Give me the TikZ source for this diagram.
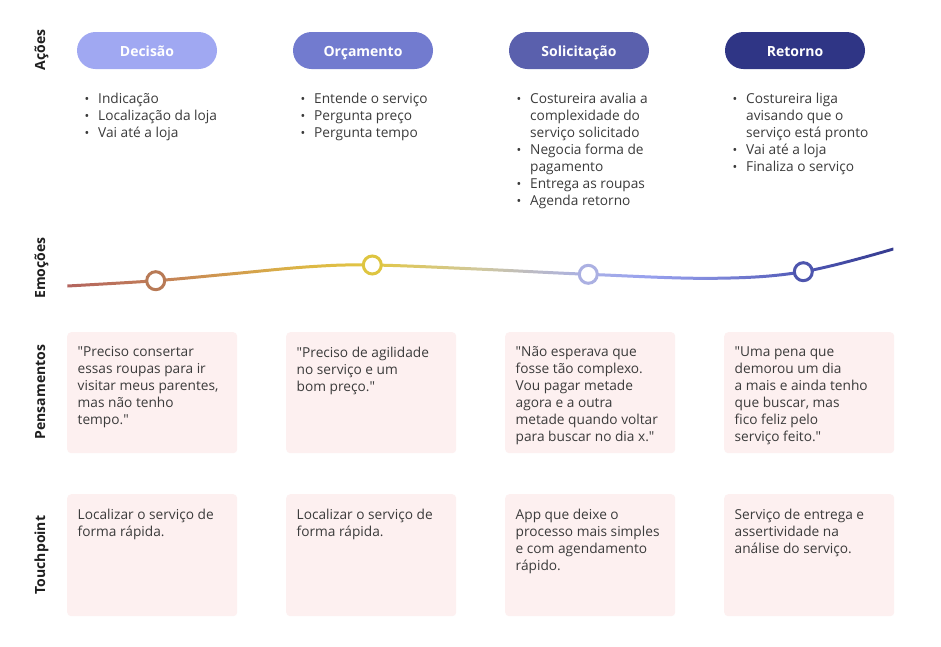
\documentclass[tikz,border=0pt]{standalone}
\usepackage{fontspec}
\setmainfont{Open Sans}[Ligatures=TeXOff]
\definecolor{pillA}{HTML}{A0A8F2}
\definecolor{pillB}{HTML}{727BCF}
\definecolor{pillC}{HTML}{5A60AD}
\definecolor{pillD}{HTML}{2F3585}
\definecolor{boxfill}{HTML}{FDF0F0}
\definecolor{txt}{HTML}{3B3B3B}
\definecolor{lbl}{HTML}{1F1F1F}
\definecolor{cA}{HTML}{B87A56}
\definecolor{cB}{HTML}{DEC540}
\definecolor{cC}{HTML}{ABB0E2}
\definecolor{cD}{HTML}{4E56AE}
\definecolor{g0}{HTML}{B3645E}
\definecolor{g1}{HTML}{C27E58}
\definecolor{g2}{HTML}{D19A4E}
\definecolor{g3}{HTML}{DDB845}
\definecolor{g4}{HTML}{E2C744}
\definecolor{g5}{HTML}{D0C89E}
\definecolor{g6}{HTML}{B9B9C9}
\definecolor{g7}{HTML}{A9B0E6}
\definecolor{g8}{HTML}{97A0EE}
\definecolor{g9}{HTML}{7F88DA}
\definecolor{g10}{HTML}{4F57B5}
\definecolor{g11}{HTML}{343A8E}
\pgfdeclarehorizontalshading{emoshade}{100bp}{color(0bp)=(g0); color(25bp)=(g0); color(30.33bp)=(g1); color(34.7bp)=(g2); color(39.7bp)=(g3); color(43.5bp)=(g4); color(50bp)=(g5); color(53.6bp)=(g6); color(56.5bp)=(g7); color(60.2bp)=(g8); color(64.1bp)=(g9); color(69.6bp)=(g10); color(75bp)=(g11); color(100bp)=(g11)}
\newcommand\blt{\makebox[11pt][l]{\kern-2.6pt{\fontsize{12.5}{10}\selectfont\raisebox{-0.2pt}{•}}}}
\newcommand\ind{\hspace*{11pt}}
\begin{document}
\begin{tikzpicture}[x=1pt,y=-1pt,
  pill/.style={rounded corners=18.5pt, minimum width=140pt, minimum height=37pt, inner sep=0pt,
    text=white, font=\fontsize{14}{17}\bfseries\selectfont, text height=11pt, text depth=0pt},
  rowlabel/.style={rotate=90, font=\fontsize{14}{17}\bfseries\selectfont, text=lbl, inner sep=0pt,
    text height=10pt, text depth=0pt},
  body/.style={anchor=north west, align=left, inner sep=0pt, text=txt,
    font=\fontsize{13.7}{17}\selectfont, execute at begin node=\strut},
  card/.style={anchor=north west, fill=boxfill, rounded corners=4pt, minimum width=170pt, inner sep=0pt},
  emo/.style={circle, draw, line width=3pt, fill=white, minimum size=18pt, inner sep=0pt}]
\useasboundingbox[fill=white] (0,0) rectangle (941,646);

% row labels
\node[rowlabel] (lA) at (40,50) {Ações};
\node[rowlabel] (lE) at (40,268) {Emoções};
\node[rowlabel] (lP) at (40,392) {Pensamentos};
\node[rowlabel] (lT) at (40,555) {Touchpoint};

% pills
\node[pill, fill=pillA] (p1) at (147,50.5) {Decisão};
\node[pill, fill=pillB] (p2) at (363,50.5) {Orçamento};
\node[pill, fill=pillC] (p3) at (579,50.5) {Solicitação};
\node[pill, fill=pillD] (p4) at (795,50.5) {Retorno};

% action lists
\node[body] (a1) at (87,92.6) {\blt Indicação\\\blt Localização da loja\\\blt Vai até a loja};
\node[body] (a2) at (303,92.6) {\blt Entende o serviço\\\blt Pergunta preço\\\blt Pergunta tempo};
\node[body] (a3) at (519,92.6) {\blt Costureira avalia a\\\ind complexidade do\\\ind serviço solicitado\\\blt Negocia forma de\\\ind pagamento\\\blt Entrega as roupas\\\blt Agenda retorno};
\node[body] (a4) at (735,92.6) {\blt Costureira liga\\\ind avisando que o\\\ind serviço está pronto\\\blt Vai até a loja\\\blt Finaliza o serviço};

% emotion curve
\shade[shading=emoshade] plot[smooth, tension=0.6] coordinates {(67.3,284.5) (155.7,279.2) (226.7,272.8) (310,265.2) (372.3,263.5) (476.7,267.5) (588.3,272.8) (713.3,276.8) (803.3,270.2) (893.3,247.5)}
  -- plot[smooth, tension=0.6] coordinates {(893.3,250.5) (803.3,273.2) (713.3,279.8) (588.3,275.8) (476.7,270.5) (372.3,266.5) (310,268.2) (226.7,275.8) (155.7,282.2) (67.3,287.5)} -- cycle;
\node[emo, draw=cA] (e1) at (155.7,280.7) {};
\node[emo, draw=cB] (e2) at (372.3,265) {};
\node[emo, draw=cC] (e3) at (588.3,274.3) {};
\node[emo, draw=cD] (e4) at (803.3,271.7) {};

% thoughts
\node[card, minimum height=121pt] (t1) at (67,332) {};
\node[card, minimum height=121pt] (t2) at (286,332) {};
\node[card, minimum height=121pt] (t3) at (505,332) {};
\node[card, minimum height=121pt] (t4) at (724,332) {};
\node[body] (tt1) at (77.5,346.6) {"Preciso consertar\\essas roupas para ir\\visitar meus parentes,\\mas não tenho\\tempo."};
\node[body] (tt2) at (296.5,346.6) {"Preciso de agilidade\\no serviço e um\\bom preço."};
\node[body] (tt3) at (515.5,346.6) {"Não esperava que\\fosse tão complexo.\\Vou pagar metade\\agora e a outra\\metade quando voltar\\para buscar no dia x."};
\node[body] (tt4) at (734.5,346.6) {"Uma pena que\\demorou um dia\\a mais e ainda tenho\\que buscar, mas\\fico feliz pelo\\serviço feito."};

% touchpoints
\node[card, minimum height=122pt] (c1) at (67,494) {};
\node[card, minimum height=122pt] (c2) at (286,494) {};
\node[card, minimum height=122pt] (c3) at (505,494) {};
\node[card, minimum height=122pt] (c4) at (724,494) {};
\node[body] (ct1) at (77.5,508.4) {Localizar o serviço de\\forma rápida.};
\node[body] (ct2) at (296.5,508.4) {Localizar o serviço de\\forma rápida.};
\node[body] (ct3) at (515.5,508.4) {App que deixe o\\processo mais simples\\e com agendamento\\rápido.};
\node[body] (ct4) at (734.5,508.4) {Serviço de entrega e\\assertividade na\\análise do serviço.};
\end{tikzpicture}
\end{document}
